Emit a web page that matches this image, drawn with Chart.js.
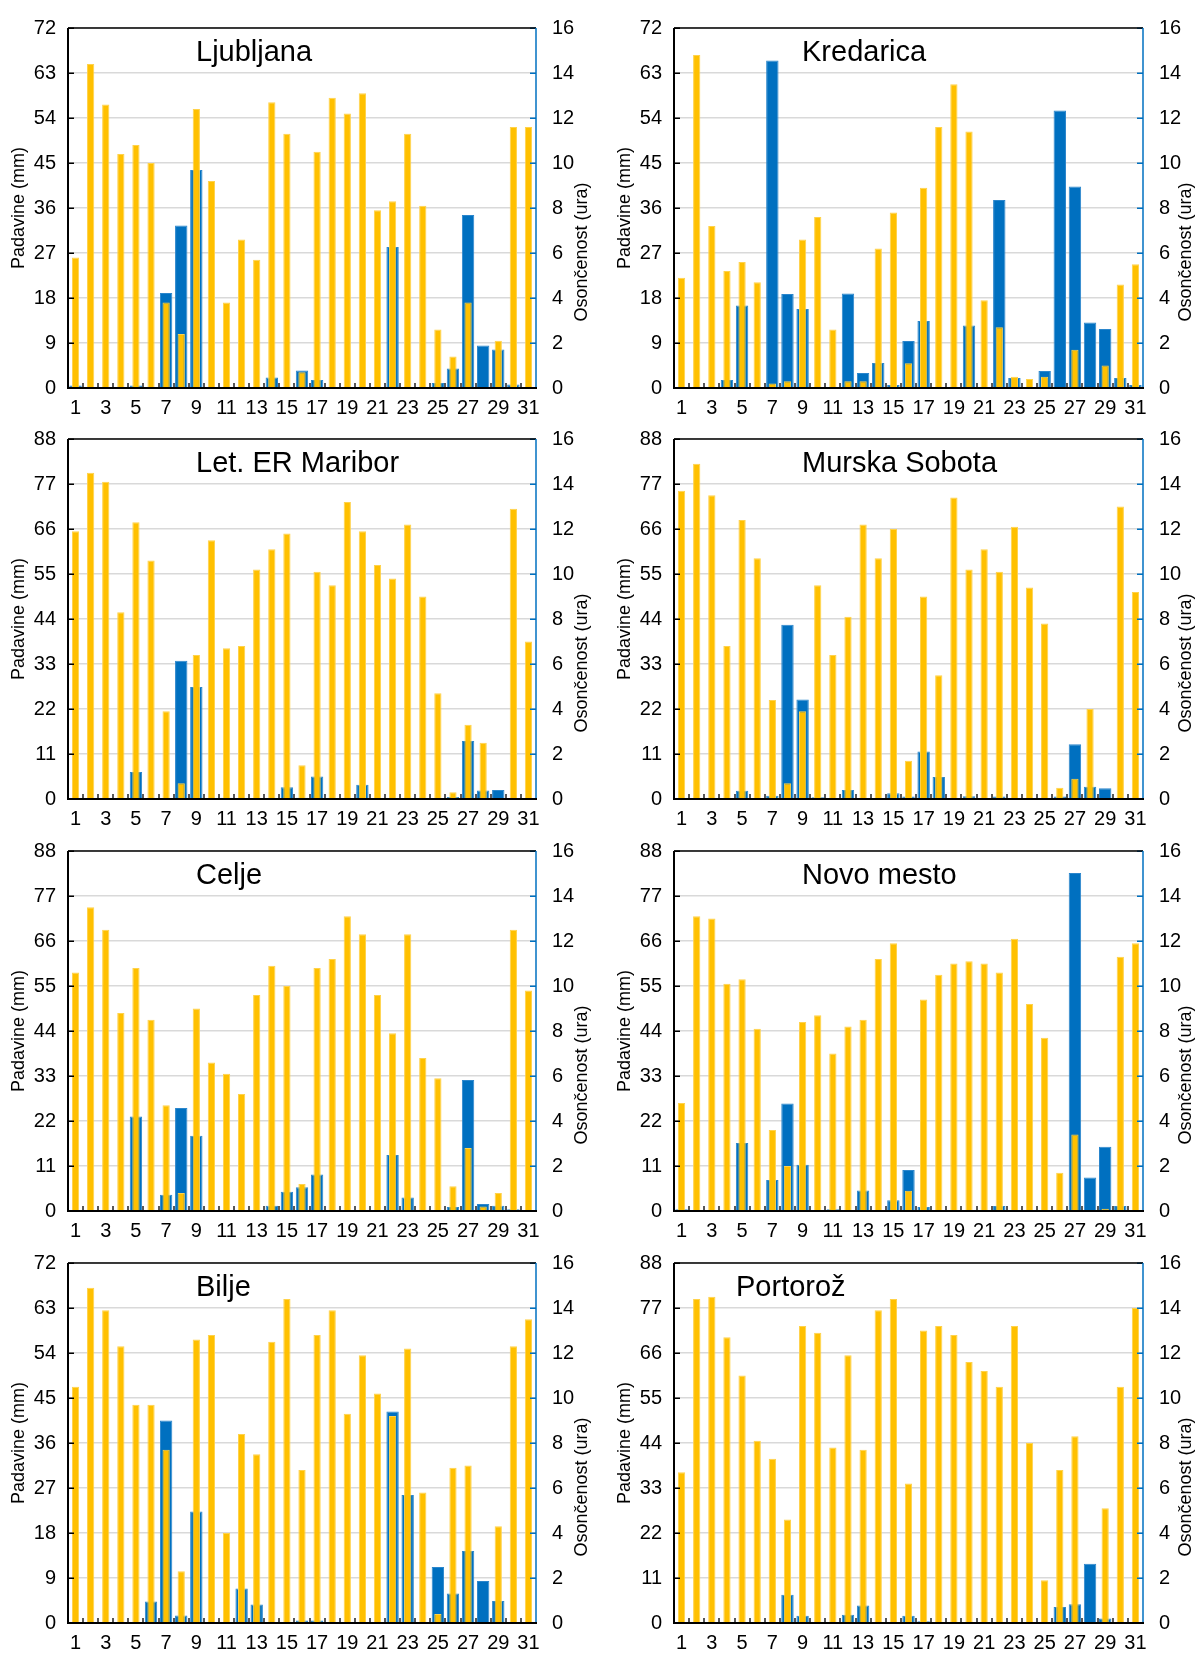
<!DOCTYPE html>
<html>
<head>
<meta charset="utf-8">
<script src="https://cdn.jsdelivr.net/npm/chart.js@4.4.1/dist/chart.umd.min.js"></script>
<style>
  html, body { margin: 0; padding: 0; background: #fff; overflow: hidden; }
  body { width: 1195px; height: 1653px; position: relative; }
  canvas { position: absolute; }
</style>
</head>
<body>
<canvas id="c0"></canvas>
<canvas id="c1"></canvas>
<canvas id="c2"></canvas>
<canvas id="c3"></canvas>
<canvas id="c4"></canvas>
<canvas id="c5"></canvas>
<canvas id="c6"></canvas>
<canvas id="c7"></canvas>
<script>
// Days of the month
const days = [1, 2, 3, 4, 5, 6, 7, 8, 9, 10, 11, 12, 13, 14, 15, 16, 17, 18, 19, 20, 21, 22, 23, 24, 25, 26, 27, 28, 29, 30, 31];

// Daily precipitation (mm) and sunshine duration (h) per station
const ljubljanaPadavine = [0.5, 0, 0, 0, 0.5, 0, 19.0, 32.5, 43.6, 0, 0, 0, 0, 2.1, 0, 3.5, 1.6, 0, 0, 0, 0, 28.2, 0, 0, 1.0, 3.9, 34.6, 8.5, 7.7, 0.7, 0];
const ljubljanaSonce = [5.8, 14.4, 12.6, 10.4, 10.8, 10.0, 3.8, 2.4, 12.4, 9.2, 3.8, 6.6, 5.7, 12.7, 11.3, 0.7, 10.5, 12.9, 12.2, 13.1, 7.9, 8.3, 11.3, 8.1, 2.6, 1.4, 3.8, 0, 2.1, 11.6, 11.6];

const kredaricaPadavine = [0, 0, 0, 1.6, 16.5, 0, 65.5, 18.8, 15.8, 0, 0, 18.9, 3.0, 5.0, 0.6, 9.4, 13.4, 0, 0, 12.5, 0, 37.6, 2.0, 0, 3.4, 55.5, 40.3, 13.1, 11.8, 2.0, 0.6];
const kredaricaSonce = [4.9, 14.8, 7.2, 5.2, 5.6, 4.7, 0.2, 0.3, 6.6, 7.6, 2.6, 0.3, 0.3, 6.2, 7.8, 1.1, 8.9, 11.6, 13.5, 11.4, 3.9, 2.7, 0.5, 0.4, 0.5, 0, 1.7, 0, 1.0, 4.6, 5.5];

const mariborPadavine = [0, 0, 0, 0, 6.6, 0, 0, 33.8, 27.4, 0, 0.3, 0, 0, 0, 2.9, 0.3, 5.5, 0, 0, 3.5, 0, 0, 0, 0, 0, 0.5, 14.2, 2.1, 2.2, 0, 0];
const mariborSonce = [11.9, 14.5, 14.1, 8.3, 12.3, 10.6, 3.9, 0.7, 6.4, 11.5, 6.7, 6.8, 10.2, 11.1, 11.8, 1.5, 10.1, 9.5, 13.2, 11.9, 10.4, 9.8, 12.2, 9.0, 4.7, 0.3, 3.3, 2.5, 0, 12.9, 7.0];

const murskaSobotaPadavine = [0, 0, 0, 0, 2.0, 0, 0.8, 42.6, 24.3, 0.4, 0, 2.2, 0, 0, 1.4, 0.6, 11.6, 5.4, 0, 0.7, 0, 0.6, 0, 0, 0, 0.6, 13.4, 3.0, 2.6, 0, 0];
const murskaSobotaSonce = [13.7, 14.9, 13.5, 6.8, 12.4, 10.7, 4.4, 0.7, 3.9, 9.5, 6.4, 8.1, 12.2, 10.7, 12.0, 1.7, 9.0, 5.5, 13.4, 10.2, 11.1, 10.1, 12.1, 9.4, 7.8, 0.5, 0.9, 4.0, 0, 13.0, 9.2];

const celjePadavine = [0, 0, 0, 0, 23.1, 0, 4.0, 25.2, 18.4, 0, 0, 0, 0, 1.3, 4.7, 5.8, 8.9, 0, 0, 0, 0, 13.7, 3.3, 0, 0, 1.0, 32.0, 1.7, 1.3, 0.4, 0];
const celjeSonce = [10.6, 13.5, 12.5, 8.8, 10.8, 8.5, 4.7, 0.8, 9.0, 6.6, 6.1, 5.2, 9.6, 10.9, 10.0, 1.2, 10.8, 11.2, 13.1, 12.3, 9.6, 7.9, 12.3, 6.8, 5.9, 1.1, 2.8, 0.2, 0.8, 12.5, 9.8];

const novoMestoPadavine = [0.4, 0, 0, 0, 16.6, 0, 7.6, 26.3, 11.3, 0, 0.4, 0, 5.0, 0, 2.6, 10.0, 1.0, 0, 0, 0, 0, 1.2, 0, 0, 0, 0, 82.6, 8.2, 15.7, 1.2, 0];
const novoMestoSonce = [4.8, 13.1, 13.0, 10.1, 10.3, 8.1, 3.6, 2.0, 8.4, 8.7, 7.0, 8.2, 8.5, 11.2, 11.9, 0.9, 9.4, 10.5, 11.0, 11.1, 11.0, 10.6, 12.1, 9.2, 7.7, 1.7, 3.4, 0, 0.1, 11.3, 11.9];

const biljePadavine = [0, 0, 0, 0, 0, 4.3, 40.5, 1.5, 22.3, 0, 0, 6.9, 3.7, 0, 0, 0.5, 0.5, 0, 0, 0, 0, 42.3, 25.6, 0, 11.2, 5.9, 14.4, 8.4, 4.4, 0.2, 0];
const biljeSonce = [10.5, 14.9, 13.9, 12.3, 9.7, 9.7, 7.7, 2.3, 12.6, 12.8, 4.0, 8.4, 7.5, 12.5, 14.4, 6.8, 12.8, 13.9, 9.3, 11.9, 10.2, 9.2, 12.2, 5.8, 0.4, 6.9, 7.0, 0, 4.3, 12.3, 13.5];

const portorozPadavine = [0, 0, 0, 0, 0, 0, 0, 6.9, 1.8, 0, 0, 2.0, 4.3, 0, 0, 1.8, 0.4, 0, 0, 0, 0, 0, 0, 0, 0, 3.9, 4.6, 14.5, 1.1, 0, 0];
const portorozSonce = [6.7, 14.4, 14.5, 12.7, 11.0, 8.1, 7.3, 4.6, 13.2, 12.9, 7.8, 11.9, 7.7, 13.9, 14.4, 6.2, 13.0, 13.2, 12.8, 11.6, 11.2, 10.5, 13.2, 8.0, 1.9, 6.8, 8.3, 0, 5.1, 10.5, 14.0];

// Axis ranges: precipitation axis maximum per station, sunshine axis fixed
const padavineMax = [72, 72, 88, 88, 88, 88, 72, 88];
const sonceMax = 16;
const sonceStep = 2;

const stationNames = ['Ljubljana', 'Kredarica', 'Let. ER Maribor', 'Murska Sobota', 'Celje', 'Novo mesto', 'Bilje', 'Portorož'];
const padavineSeries = [ljubljanaPadavine, kredaricaPadavine, mariborPadavine, murskaSobotaPadavine, celjePadavine, novoMestoPadavine, biljePadavine, portorozPadavine];
const sonceSeries = [ljubljanaSonce, kredaricaSonce, mariborSonce, murskaSobotaSonce, celjeSonce, novoMestoSonce, biljeSonce, portorozSonce];

const FONT = "'Liberation Sans', Arial, sans-serif";
const BLUE = '#0070C0';
const YELLOW = '#FFC000';
const TICK_SIZE = 20;

Chart.defaults.font.family = FONT;
Chart.defaults.color = '#000';

// Panel layout: canvas placement and fixed axis widths
const rowTops = [0, 411, 823, 1235];
const CANVAS_H = 420;
const PAD_TOP = 21;
const X_AXIS_H = 32;
const columns = [
  { left: 0, width: 597, axisL: 68, axisR: 61 },
  { left: 597, width: 598, axisL: 77, axisR: 52 }
];
const titleOffsets = [128, 128, 128, 128, 128, 128, 128, 62];

// Frame, inward tick marks and texts
const panelDecor = {
  id: 'panelDecor',
  afterDatasetsDraw(chart) {
    const { ctx, chartArea: a, scales } = chart;
    ctx.save();
    // category separators on the x axis
    ctx.strokeStyle = '#595959';
    ctx.lineWidth = 2;
    ctx.beginPath();
    const n = chart.data.labels.length;
    for (let i = 1; i < n; i++) {
      const x = Math.round((scales.x.getPixelForTick(i - 1) + scales.x.getPixelForTick(i)) / 2);
      ctx.moveTo(x, a.bottom);
      ctx.lineTo(x, a.bottom - 5);
    }
    ctx.stroke();
    // left axis ticks
    ctx.strokeStyle = '#000';
    ctx.lineWidth = 1.5;
    ctx.beginPath();
    scales.y.ticks.forEach(t => {
      const y = Math.round(scales.y.getPixelForValue(t.value)) + 0.25;
      ctx.moveTo(a.left, y);
      ctx.lineTo(a.left + 6, y);
    });
    ctx.stroke();
    // right axis ticks
    ctx.strokeStyle = BLUE;
    ctx.beginPath();
    scales.y1.ticks.forEach(t => {
      const y = Math.round(scales.y1.getPixelForValue(t.value)) + 0.25;
      ctx.moveTo(a.right - 6, y);
      ctx.lineTo(a.right, y);
    });
    ctx.stroke();
    // frame
    ctx.lineWidth = 1.5;
    ctx.strokeStyle = '#000';
    ctx.beginPath();
    ctx.moveTo(a.left, a.top);
    ctx.lineTo(a.right, a.top);
    ctx.stroke();
    ctx.strokeStyle = BLUE;
    ctx.beginPath();
    ctx.moveTo(a.right, a.top);
    ctx.lineTo(a.right, a.bottom);
    ctx.stroke();
    ctx.lineWidth = 2;
    ctx.strokeStyle = '#000';
    ctx.beginPath();
    ctx.moveTo(a.left, a.top);
    ctx.lineTo(a.left, a.bottom);
    ctx.lineTo(a.right + 1, a.bottom);
    ctx.stroke();
    ctx.restore();
  },
  afterDraw(chart, args, opts) {
    const { ctx, chartArea: a } = chart;
    ctx.save();
    ctx.fillStyle = '#000';
    ctx.font = '29px ' + FONT;
    ctx.textAlign = 'left';
    ctx.textBaseline = 'alphabetic';
    ctx.fillText(opts.title, a.left + opts.titleOffset, a.top + 33);

    ctx.font = '18px ' + FONT;
    ctx.textAlign = 'center';
    ctx.textBaseline = 'middle';
    const cy = (a.top + a.bottom) / 2;
    ctx.save();
    ctx.translate(a.left - 49, cy);
    ctx.rotate(-Math.PI / 2);
    ctx.fillText('Padavine (mm)', 0, 0);
    ctx.restore();
    ctx.save();
    ctx.translate(a.right + opts.rightTitleGap, cy + 44);
    ctx.rotate(-Math.PI / 2);
    ctx.fillText('Osončenost (ura)', 0, 0);
    ctx.restore();
    ctx.restore();
  }
};

stationNames.forEach((name, i) => {
  const row = Math.floor(i / 2);
  const col = columns[i % 2];
  const canvas = document.getElementById('c' + i);
  canvas.width = col.width;
  canvas.height = CANVAS_H;
  canvas.style.left = col.left + 'px';
  canvas.style.top = rowTops[row] + 'px';
  canvas.style.width = col.width + 'px';
  canvas.style.height = CANVAS_H + 'px';

  const pMax = padavineMax[i];

  new Chart(canvas, {
    type: 'bar',
    data: {
      labels: days,
      datasets: [
        {
          label: 'Osončenost',
          data: sonceSeries[i],
          yAxisID: 'y1',
          backgroundColor: YELLOW,
          borderColor: '#ffd24a',
          borderWidth: ctx => (ctx.raw > 0 ? 1 : 0),
          grouped: false,
          categoryPercentage: 1,
          barPercentage: 0.48,
          order: 1
        },
        {
          label: 'Padavine',
          data: padavineSeries[i],
          yAxisID: 'y',
          backgroundColor: BLUE,
          borderColor: '#2b86cc',
          borderWidth: ctx => (ctx.raw > 0 ? 1 : 0),
          grouped: false,
          categoryPercentage: 1,
          barPercentage: 0.82,
          order: 2
        }
      ]
    },
    options: {
      responsive: false,
      animation: false,
      devicePixelRatio: 1,
      layout: { padding: { top: PAD_TOP, left: 0, right: 0, bottom: 0 } },
      plugins: {
        legend: { display: false },
        tooltip: { enabled: false },
        panelDecor: { title: name, titleOffset: titleOffsets[i], rightTitleGap: i % 2 === 0 ? 46 : 43 }
      },
      scales: {
        x: {
          offset: true,
          grid: { display: false, drawTicks: false },
          border: { display: false },
          ticks: {
            autoSkip: false,
            maxRotation: 0,
            minRotation: 0,
            padding: 8,
            font: { size: TICK_SIZE },
            color: '#000',
            callback: (v, idx) => (idx % 2 === 0 ? String(days[idx]) : '')
          },
          afterFit: s => { s.height = X_AXIS_H; }
        },
        y: {
          position: 'left',
          min: 0,
          max: pMax,
          grid: { color: '#d9d9d9', lineWidth: 1.5, drawTicks: false },
          border: { display: false },
          ticks: { stepSize: pMax / 8, padding: 12, font: { size: TICK_SIZE }, color: '#000' },
          afterFit: s => { s.width = col.axisL; }
        },
        y1: {
          position: 'right',
          min: 0,
          max: sonceMax,
          grid: { display: false, drawTicks: false },
          border: { display: false },
          ticks: { stepSize: sonceStep, padding: 16, font: { size: TICK_SIZE }, color: '#000' },
          afterFit: s => { s.width = col.axisR; }
        }
      }
    },
    plugins: [panelDecor]
  });
});
</script>
</body>
</html>
